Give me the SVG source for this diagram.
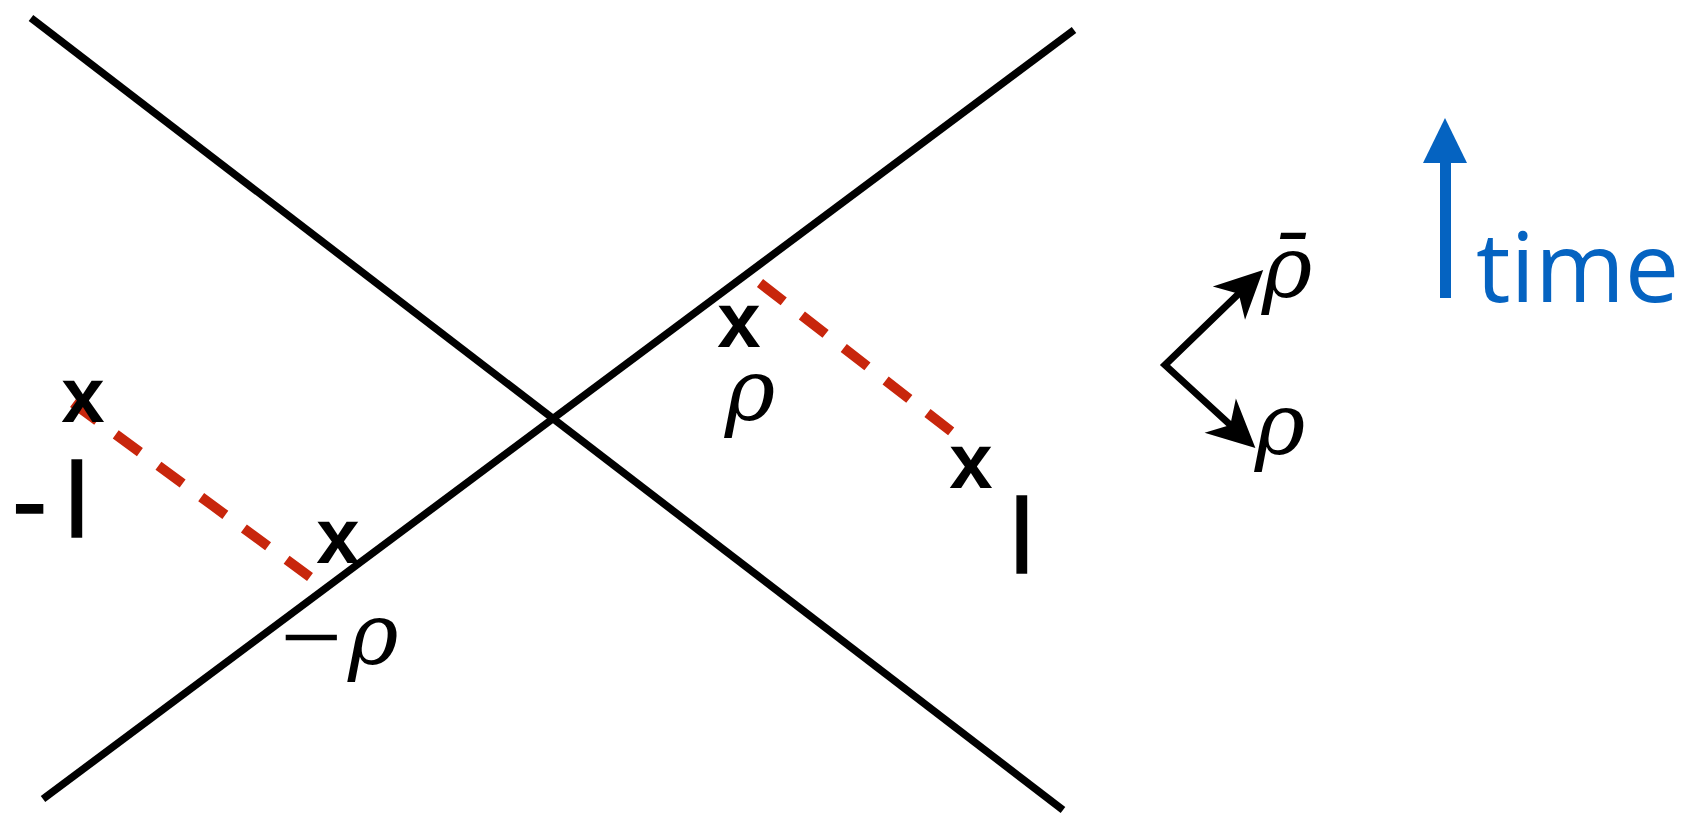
<svg xmlns="http://www.w3.org/2000/svg" width="1684" height="813" viewBox="0 0 1684 813">
  <defs>
    <style>
      .axis { stroke: #000; stroke-width: 7.5; fill: none; }
      .dash { stroke: #c8260c; stroke-width: 10; stroke-dasharray: 30 23; fill: none; }
      .mark { font-family: "Liberation Sans", "Open Sans", sans-serif; font-weight: bold; font-size: 78px; fill: #000; text-anchor: middle; }
      .ell { font-family: "Liberation Sans", "Open Sans", sans-serif; font-size: 106px; fill: #000; stroke: #000; stroke-width: 1.5; }
      .rho { font-family: "DejaVu Serif", "Liberation Serif", serif; font-style: italic; font-size: 86px; fill: #000; }
      .minus { font-family: "Liberation Serif", "DejaVu Serif", serif; font-style: normal; font-size: 110px; }
      .time { font-family: "Open Sans", "Liberation Sans", sans-serif; font-size: 97px; fill: #0563c1; }
    </style>
    <marker id="blackHead" markerUnits="userSpaceOnUse" markerWidth="60" markerHeight="60" viewBox="-20 -20 44 40" refX="0" refY="0" orient="auto-start-reverse" overflow="visible">
      <path d="M20,0 L-15,-17 L-5,0 L-15,17 Z" fill="#000"/>
    </marker>
  </defs>
  <rect width="1684" height="813" fill="#fff"/>

  <g id="connectors">
    <line id="worldline-a" class="axis" x1="43" y1="799" x2="1074" y2="30"/>
    <line id="worldline-b" class="axis" x1="31" y1="18" x2="1063" y2="810"/>
    <line id="dash-left" class="dash" x1="73" y1="403" x2="310" y2="577"/>
    <line id="dash-right" class="dash" x1="760" y1="283" x2="952" y2="432"/>
    <path id="basis-arrows" d="M1243.6,288.9 L1165,365 L1235.3,429.5" stroke="#000" stroke-width="7" fill="none" stroke-linejoin="miter" marker-start="url(#blackHead)" marker-end="url(#blackHead)"/>
  </g>

  <g id="x-left-top"><text class="mark" x="83" y="422">x</text></g>
  <g id="x-left-bottom"><text class="mark" x="338" y="563">x</text></g>
  <g id="x-right-top"><text class="mark" x="739" y="347">x</text></g>
  <g id="x-right-bottom"><text class="mark" x="971" y="488">x</text></g>

  <g id="label-minus-l"><text class="ell" x="12 65" y="537">-l</text></g>
  <g id="label-l"><text class="ell" x="1010" y="573">l</text></g>

  <g id="label-rho-right"><text class="rho" x="750" y="420" text-anchor="middle">ρ</text></g>
  <g id="label-minus-rho">
    <text class="rho" y="664"><tspan class="minus" x="280" y="674">−</tspan><tspan x="348" y="664">ρ</tspan></text>
  </g>
  <g id="label-rhobar"><text class="rho" x="1287" y="297" text-anchor="middle">ρ̄</text></g>
  <g id="label-rho-lower"><text class="rho" x="1280" y="454" text-anchor="middle">ρ</text></g>

  <g id="time-arrow">
    <line x1="1445.5" y1="160" x2="1445.5" y2="298" stroke="#0563c1" stroke-width="11"/>
    <polygon points="1445,118 1423,163 1467,163" fill="#0563c1"/>
    <text class="time" x="1476" y="302">time</text>
  </g>
</svg>
